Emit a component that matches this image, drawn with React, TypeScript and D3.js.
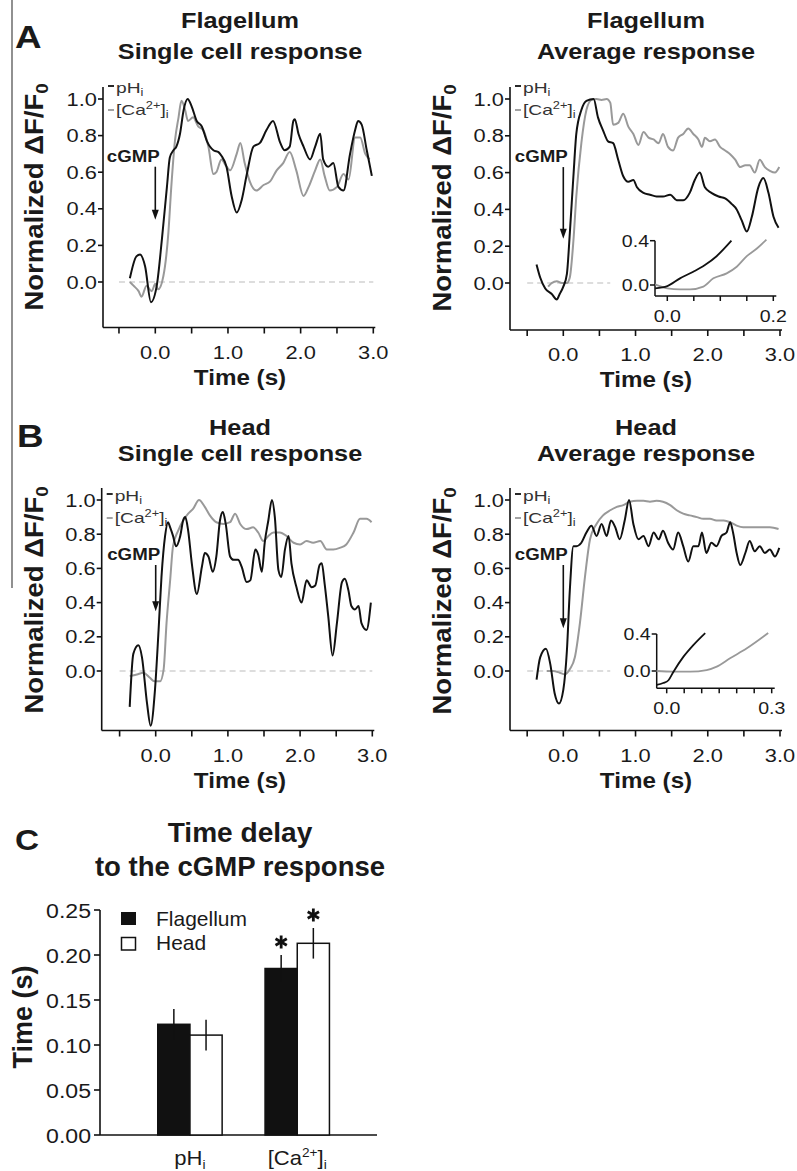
import React from "react";
import * as d3 from "d3";

const FONT = '"Liberation Sans", Arial, Helvetica, sans-serif';

type Pt = [number, number];

// ---- traces: [time (s), normalized dF/F0] ----
const flagSinglePh: Pt[] = [
  [-0.35, 0.02], [-0.26, 0.14], [-0.21, 0.15], [-0.14, 0.085], [-0.06, -0.11],
  [0.02, -0.02], [0.09, 0.23], [0.16, 0.52], [0.2, 0.68], [0.25, 0.72],
  [0.29, 0.74], [0.34, 0.81], [0.39, 0.94], [0.445, 1.0], [0.5, 0.96],
  [0.57, 0.88], [0.64, 0.85], [0.71, 0.77], [0.8, 0.72], [0.87, 0.71],
  [0.91, 0.69], [0.98, 0.63], [1.05, 0.47], [1.12, 0.38], [1.19, 0.45],
  [1.26, 0.59], [1.35, 0.74], [1.44, 0.76], [1.53, 0.83], [1.62, 0.88],
  [1.72, 0.76], [1.78, 0.72], [1.85, 0.74], [1.9, 0.88], [1.92, 0.89],
  [1.97, 0.81], [2.04, 0.74], [2.13, 0.67], [2.2, 0.74], [2.27, 0.81],
  [2.31, 0.67], [2.38, 0.63], [2.45, 0.65], [2.52, 0.52], [2.59, 0.5],
  [2.68, 0.7], [2.75, 0.83], [2.79, 0.88], [2.84, 0.86], [2.91, 0.72], [2.98, 0.58],
];
const flagSingleCa: Pt[] = [
  [-0.35, 0.0], [-0.3, -0.02], [-0.23, -0.05], [-0.19, -0.08], [-0.12, -0.02],
  [-0.05, -0.05], [0, -0.01], [0.04, -0.04], [0.11, 0.03], [0.18, 0.27],
  [0.22, 0.52], [0.27, 0.77], [0.32, 0.9], [0.36, 0.99], [0.41, 0.94],
  [0.45, 0.88], [0.52, 0.9], [0.59, 0.85], [0.66, 0.83], [0.73, 0.74],
  [0.8, 0.59], [0.84, 0.6], [0.91, 0.67], [0.98, 0.63], [1.03, 0.61],
  [1.12, 0.7], [1.17, 0.76], [1.23, 0.65], [1.3, 0.55], [1.39, 0.5],
  [1.49, 0.53], [1.58, 0.55], [1.67, 0.61], [1.76, 0.65], [1.85, 0.71],
  [1.94, 0.61], [2.04, 0.47], [2.11, 0.52], [2.2, 0.61], [2.27, 0.67],
  [2.33, 0.58], [2.4, 0.5], [2.5, 0.52], [2.59, 0.59], [2.66, 0.56],
  [2.75, 0.79], [2.82, 0.79], [2.89, 0.7], [2.95, 0.67],
];
const flagAvgPh: Pt[] = [
  [-0.37, 0.1], [-0.32, 0.03], [-0.25, -0.03], [-0.16, -0.06], [-0.09, -0.09],
  [-0.05, -0.06], [0, -0.02], [0.05, 0.05], [0.09, 0.27], [0.14, 0.58],
  [0.18, 0.81], [0.25, 0.94], [0.32, 0.99], [0.42, 1.0], [0.48, 0.9],
  [0.55, 0.83], [0.62, 0.77], [0.69, 0.76], [0.76, 0.67], [0.83, 0.58],
  [0.9, 0.55], [0.97, 0.56], [1.02, 0.52], [1.11, 0.49], [1.2, 0.48],
  [1.29, 0.47], [1.38, 0.47], [1.48, 0.48], [1.57, 0.45], [1.66, 0.45],
  [1.75, 0.49], [1.82, 0.56], [1.89, 0.6], [1.96, 0.52], [2.05, 0.49],
  [2.15, 0.47], [2.24, 0.46], [2.33, 0.43], [2.4, 0.4], [2.47, 0.34],
  [2.54, 0.28], [2.61, 0.36], [2.7, 0.52], [2.77, 0.57], [2.84, 0.49],
  [2.91, 0.36], [2.98, 0.3],
];
const flagAvgCa: Pt[] = [
  [-0.21, -0.02], [-0.16, 0.0], [-0.09, 0.01], [-0.02, 0.0], [0.05, 0.0],
  [0.09, 0.03], [0.14, 0.23], [0.18, 0.47], [0.25, 0.76], [0.32, 0.94],
  [0.39, 0.995], [0.46, 1.0], [0.53, 0.995], [0.6, 1.0], [0.65, 0.98],
  [0.69, 0.86], [0.76, 0.87], [0.83, 0.92], [0.9, 0.85], [0.97, 0.81],
  [1.04, 0.75], [1.11, 0.82], [1.18, 0.79], [1.25, 0.78], [1.32, 0.76],
  [1.38, 0.81], [1.45, 0.74], [1.52, 0.72], [1.59, 0.79], [1.66, 0.81],
  [1.73, 0.84], [1.8, 0.81], [1.87, 0.78], [1.92, 0.74], [1.96, 0.79],
  [2.03, 0.77], [2.1, 0.78], [2.17, 0.74], [2.24, 0.72], [2.31, 0.7],
  [2.38, 0.67], [2.45, 0.63], [2.52, 0.64], [2.58, 0.64], [2.65, 0.6],
  [2.72, 0.67], [2.79, 0.63], [2.86, 0.61], [2.93, 0.6], [2.99, 0.63],
];
const headSinglePh: Pt[] = [
  [-0.36, -0.21], [-0.31, 0.1], [-0.24, 0.15], [-0.19, 0.08], [-0.12, -0.19],
  [-0.07, -0.32], [-0.01, -0.11], [0.04, 0.24], [0.08, 0.55], [0.13, 0.79],
  [0.17, 0.87], [0.2, 0.84], [0.24, 0.79], [0.28, 0.73], [0.34, 0.79],
  [0.38, 0.88], [0.41, 0.9], [0.45, 0.82], [0.5, 0.63], [0.57, 0.45],
  [0.64, 0.61], [0.68, 0.69], [0.73, 0.67], [0.79, 0.58], [0.84, 0.67],
  [0.89, 0.88], [0.93, 0.93], [0.97, 0.86], [1.03, 0.67], [1.08, 0.65],
  [1.14, 0.65], [1.19, 0.61], [1.26, 0.52], [1.31, 0.53], [1.38, 0.71],
  [1.42, 0.68], [1.47, 0.58], [1.51, 0.75], [1.56, 0.88], [1.61, 1.0],
  [1.65, 0.9], [1.7, 0.59], [1.74, 0.55], [1.79, 0.71], [1.84, 0.79],
  [1.88, 0.63], [1.95, 0.49], [2.02, 0.4], [2.09, 0.53], [2.16, 0.49],
  [2.21, 0.5], [2.27, 0.62], [2.3, 0.63], [2.34, 0.51], [2.39, 0.32],
  [2.45, 0.09], [2.51, 0.28], [2.58, 0.52], [2.62, 0.54], [2.67, 0.47],
  [2.71, 0.38], [2.76, 0.36], [2.81, 0.38], [2.85, 0.28], [2.92, 0.24], [2.98, 0.4],
];
const headSingleCa: Pt[] = [
  [-0.36, -0.03], [-0.26, -0.02], [-0.17, -0.01], [-0.08, -0.04], [-0.02, -0.06],
  [0.06, -0.06], [0.11, 0.01], [0.15, 0.28], [0.2, 0.53], [0.24, 0.73],
  [0.31, 0.82], [0.38, 0.88], [0.45, 0.92], [0.52, 0.95], [0.6, 1.0],
  [0.68, 0.96], [0.75, 0.91], [0.84, 0.87], [0.94, 0.86], [1.03, 0.87],
  [1.1, 0.92], [1.17, 0.86], [1.26, 0.83], [1.35, 0.84], [1.42, 0.81],
  [1.49, 0.76], [1.56, 0.79], [1.63, 0.81], [1.72, 0.81], [1.81, 0.79],
  [1.91, 0.75], [2.0, 0.74], [2.09, 0.76], [2.18, 0.75], [2.28, 0.76],
  [2.37, 0.71], [2.46, 0.71], [2.55, 0.72], [2.64, 0.74], [2.74, 0.81],
  [2.83, 0.89], [2.92, 0.89], [2.99, 0.87],
];
const headAvgPh: Pt[] = [
  [-0.37, -0.05], [-0.32, 0.08], [-0.24, 0.13], [-0.18, 0.04], [-0.12, -0.13],
  [-0.06, -0.19], [0, -0.11], [0.05, 0.12], [0.09, 0.47], [0.14, 0.73],
  [0.18, 0.73], [0.25, 0.75], [0.32, 0.81], [0.39, 0.85], [0.46, 0.79],
  [0.53, 0.86], [0.6, 0.79], [0.66, 0.88], [0.72, 0.84], [0.78, 0.77],
  [0.85, 0.88], [0.91, 1.0], [0.97, 0.86], [1.04, 0.77], [1.11, 0.79],
  [1.18, 0.73], [1.25, 0.81], [1.32, 0.77], [1.38, 0.82], [1.45, 0.75],
  [1.52, 0.71], [1.59, 0.81], [1.66, 0.73], [1.73, 0.64], [1.8, 0.73],
  [1.87, 0.73], [1.92, 0.81], [1.98, 0.69], [2.05, 0.75], [2.12, 0.73],
  [2.19, 0.79], [2.26, 0.81], [2.31, 0.87], [2.35, 0.81], [2.4, 0.69],
  [2.45, 0.62], [2.52, 0.69], [2.58, 0.76], [2.65, 0.7], [2.72, 0.73],
  [2.79, 0.69], [2.86, 0.71], [2.93, 0.67], [2.99, 0.72],
];
const headAvgCa: Pt[] = [
  [-0.23, 0.0], [-0.14, 0.0], [-0.05, -0.01], [0.02, -0.02], [0.09, 0.01],
  [0.16, 0.08], [0.23, 0.28], [0.3, 0.55], [0.37, 0.77], [0.46, 0.86],
  [0.55, 0.91], [0.65, 0.94], [0.74, 0.96], [0.83, 0.97], [0.92, 0.99],
  [1.02, 0.995], [1.11, 0.995], [1.2, 0.99], [1.29, 0.995], [1.38, 0.99],
  [1.48, 0.97], [1.57, 0.94], [1.66, 0.92], [1.75, 0.91], [1.85, 0.9],
  [1.94, 0.89], [2.03, 0.89], [2.12, 0.88], [2.22, 0.88], [2.31, 0.87],
  [2.4, 0.85], [2.49, 0.84], [2.58, 0.84], [2.68, 0.84], [2.77, 0.84],
  [2.86, 0.84], [2.98, 0.83],
];

// ---- inset traces (first 0.2 / 0.3 s) ----
const flagInsetPh: Pt[] = [
  [-0.023, -0.03], [0, -0.01], [0.024, 0.06], [0.049, 0.12], [0.071, 0.18],
  [0.093, 0.26], [0.121, 0.4],
];
const flagInsetCa: Pt[] = [
  [-0.023, 0.006], [0, -0.03], [0.024, -0.04], [0.043, -0.04], [0.068, -0.015],
  [0.087, 0.06], [0.112, 0.105], [0.131, 0.165], [0.15, 0.26], [0.169, 0.33], [0.187, 0.41],
];
const headInsetPh: Pt[] = [
  [-0.029, -0.15], [-0.01, -0.13], [0.005, -0.1], [0.019, -0.01], [0.048, 0.155],
  [0.076, 0.28], [0.11, 0.41],
];
const headInsetCa: Pt[] = [
  [-0.029, 0], [0.019, -0.007], [0.067, -0.007], [0.114, 0.01], [0.143, 0.047],
  [0.181, 0.137], [0.229, 0.245], [0.29, 0.41],
];

// ---- panel C ----
const delayCats = ["pH", "Ca"];
const delaySeries = ["Flagellum", "Head"];
const flagellumDelay = [0.123, 0.185];
const flagellumErr = [0.017, 0.015];
const headDelay = [0.111, 0.213];
const headErr = [0.017, 0.017];
const delaySignif = [false, true];
const delayTicks = [0, 0.05, 0.1, 0.15, 0.2, 0.25];

const xTicks = [-0.5, 0, 0.5, 1, 1.5, 2, 2.5, 3];
const yTicks = [0, 0.2, 0.4, 0.6, 0.8, 1];

const BLACK = "#111";
const GRAY = "#999";

function Txt(props: any) {
  const { x, y, sx = 1, size, weight = "normal", anchor = "start", fill = "#1a1a1a", rotate, children } = props;
  const tf = `translate(${x},${y})${rotate ? ` rotate(${rotate})` : ""} scale(${sx},1)`;
  return (
    <text transform={tf} fontSize={size} fontWeight={weight} textAnchor={anchor} fill={fill} fontFamily={FONT}>
      {children}
    </text>
  );
}

function Inset({ c }: any) {
  const x = d3.scaleLinear().domain([0, c.tMax]).range([c.x0, c.x1]);
  const y = d3.scaleLinear().domain([0, 0.4]).range([c.y0, c.y4]);
  const line = d3.line<Pt>().x((d) => x(d[0])).y((d) => y(d[1])).curve(d3.curveMonotoneX);
  const ticks = d3.range(0, c.tMax + 1e-9, 0.05);
  return (
    <g>
      <line x1={c.axisX} x2={c.axisX} y1={y(0.4)} y2={c.axisY} stroke={BLACK} strokeWidth={1.5} />
      <line x1={c.axisX} x2={x(c.tMax) + 3} y1={c.axisY} y2={c.axisY} stroke={BLACK} strokeWidth={1.5} />
      {[0, 0.4].map((v) => (
        <g key={v}>
          <line x1={c.axisX - 5} x2={c.axisX} y1={y(v)} y2={y(v)} stroke={BLACK} strokeWidth={1.5} />
          <Txt x={c.axisX - 6} y={y(v) + 6} size={17} sx={1.15} anchor="end">{v.toFixed(1)}</Txt>
        </g>
      ))}
      {ticks.map((t) => (
        <line key={t} x1={x(t)} x2={x(t)} y1={c.axisY} y2={c.axisY + 5} stroke={BLACK} strokeWidth={1.5} />
      ))}
      <Txt x={x(0)} y={c.axisY + 26} size={17} sx={1.15} anchor="middle">0.0</Txt>
      <Txt x={x(c.tMax)} y={c.axisY + 26} size={17} sx={1.15} anchor="middle">{c.tMax.toFixed(1)}</Txt>
      <path d={line(c.ca) || ""} fill="none" stroke={GRAY} strokeWidth={1.8} />
      <path d={line(c.ph) || ""} fill="none" stroke={BLACK} strokeWidth={1.8} />
    </g>
  );
}

function TracePanel({ c }: any) {
  const x = d3.scaleLinear().domain([0, 3]).range([c.x0, c.x3]);
  const y = d3.scaleLinear().domain([0, 1]).range([c.y0, c.y1]);
  const line = d3.line<Pt>().x((d) => x(d[0])).y((d) => y(d[1])).curve(d3.curveMonotoneX);
  const ax = c.axisX;
  const tipY = y(c.arrowTip);
  return (
    <g>
      <Txt x={c.titleX} y={c.titleY[0]} size={22} sx={1.15} weight="bold" anchor="middle">{c.title[0]}</Txt>
      <Txt x={c.titleX} y={c.titleY[1]} size={22} sx={1.15} weight="bold" anchor="middle">{c.title[1]}</Txt>
      {c.letter && (
        <Txt x={c.letter[1]} y={c.letter[2]} size={32} sx={1.15} weight="bold">{c.letter[0]}</Txt>
      )}
      <Txt x={c.ylab[0]} y={c.ylab[1]} size={25} sx={1.1} weight="bold" anchor="middle" rotate={-90}>
        Normalized ΔF/F<tspan fontSize={17} dy={5}>0</tspan>
      </Txt>
      {/* zero baseline */}
      <line x1={x(-0.5)} x2={x(c.dashEnd)} y1={y(0)} y2={y(0)} stroke="#bbb" strokeWidth={1.2} strokeDasharray="6,4" />
      {/* axes */}
      <line x1={ax} x2={ax} y1={y(1) - 12} y2={c.axisY} stroke={BLACK} strokeWidth={1.6} />
      <line x1={ax} x2={x(3) + 2} y1={c.axisY} y2={c.axisY} stroke={BLACK} strokeWidth={1.6} />
      {yTicks.map((v) => (
        <g key={v}>
          <line x1={ax - 5} x2={ax} y1={y(v)} y2={y(v)} stroke={BLACK} strokeWidth={1.6} />
          <Txt x={ax - 6} y={y(v) + 6.5} size={19} sx={1.15} anchor="end">{v.toFixed(1)}</Txt>
        </g>
      ))}
      {xTicks.map((t) => (
        <g key={t}>
          <line x1={x(t)} x2={x(t)} y1={c.axisY} y2={c.axisY + 6} stroke={BLACK} strokeWidth={1.6} />
          {Number.isInteger(t) && (
            <Txt x={x(t)} y={c.axisY + 31} size={19} sx={1.15} anchor="middle">{t.toFixed(1)}</Txt>
          )}
        </g>
      ))}
      <Txt x={c.titleX} y={c.axisY + 57} size={22} sx={1.1} weight="bold" anchor="middle">Time (s)</Txt>
      {/* legend */}
      <line x1={ax + 5} x2={ax + 11} y1={c.legY[0] - 7} y2={c.legY[0] - 7} stroke={BLACK} strokeWidth={1.8} />
      <Txt x={ax + 13} y={c.legY[0]} size={15} sx={1.28} fill="#333">
        pH<tspan fontSize={10} dy={3}>i</tspan>
      </Txt>
      <line x1={ax + 5} x2={ax + 11} y1={c.legY[1] - 5} y2={c.legY[1] - 5} stroke={GRAY} strokeWidth={1.8} />
      <Txt x={ax + 13} y={c.legY[1]} size={15} sx={1.28} fill="#333">
        [Ca<tspan fontSize={10} dy={-6}>2+</tspan>
        <tspan dy={6}>]</tspan>
        <tspan fontSize={10} dy={3}>i</tspan>
      </Txt>
      {/* traces */}
      <path d={line(c.ca) || ""} fill="none" stroke={GRAY} strokeWidth={2} strokeLinejoin="round" />
      <path d={line(c.ph) || ""} fill="none" stroke={BLACK} strokeWidth={2} strokeLinejoin="round" />
      {/* cGMP arrow */}
      <Txt x={x(0) - 22} y={y(c.arrowTop) - 5} size={17} sx={1.1} weight="bold" anchor="middle">cGMP</Txt>
      <line x1={x(0)} x2={x(0)} y1={y(c.arrowTop)} y2={tipY - 8} stroke={BLACK} strokeWidth={1.6} />
      <path d={`M${x(0) - 3.5},${tipY - 10}L${x(0) + 3.5},${tipY - 10}L${x(0)},${tipY}Z`} fill={BLACK} />
      {c.inset && <Inset c={c.inset} />}
    </g>
  );
}

const panels = [
  {
    axisX: 103, x0: 155.3, x3: 373.3, y0: 282, y1: 99, axisY: 327.5,
    title: ["Flagellum", "Single cell response"], titleX: 240, titleY: [28, 59],
    letter: ["A", 15, 48], ylab: [43, 197], legY: [93, 115],
    arrowTop: 0.63, arrowTip: 0.34, dashEnd: 3, ph: flagSinglePh, ca: flagSingleCa,
  },
  {
    axisX: 510, x0: 563.3, x3: 780, y0: 283, y1: 99, axisY: 330,
    title: ["Flagellum", "Average response"], titleX: 646, titleY: [28, 59],
    ylab: [451, 198], legY: [93, 115],
    arrowTop: 0.63, arrowTip: 0.24, dashEnd: 0.65, ph: flagAvgPh, ca: flagAvgCa,
    inset: { tMax: 0.2, x0: 667.3, x1: 773.3, y0: 285, y4: 240.7, axisX: 655, axisY: 296, ph: flagInsetPh, ca: flagInsetCa },
  },
  {
    axisX: 101.7, x0: 155.7, x3: 372.3, y0: 671, y1: 500, axisY: 730.5,
    title: ["Head", "Single cell response"], titleX: 240, titleY: [435, 461],
    letter: ["B", 17, 447], ylab: [43, 600], legY: [501, 523],
    arrowTop: 0.62, arrowTip: 0.35, dashEnd: 3, ph: headSinglePh, ca: headSingleCa,
  },
  {
    axisX: 510, x0: 563.3, x3: 780, y0: 671, y1: 500, axisY: 730.5,
    title: ["Head", "Average response"], titleX: 646, titleY: [435, 461],
    ylab: [451, 601], legY: [501, 523],
    arrowTop: 0.62, arrowTip: 0.25, dashEnd: 0.65, ph: headAvgPh, ca: headAvgCa,
    inset: { tMax: 0.3, x0: 666.7, x1: 771.7, y0: 671, y4: 634, axisX: 656.7, axisY: 688.3, ph: headInsetPh, ca: headInsetCa },
  },
];

function DelayPanel() {
  const axisX = 100;
  const y = d3.scaleLinear().domain([0, 0.25]).range([1135, 910]);
  const xg = d3.scaleBand().domain(delayCats).range([136.3, 350.9]).paddingInner(0.4).paddingOuter(0.2);
  const xs = d3.scaleBand().domain(delaySeries).range([0, xg.bandwidth()]);
  const vals = [flagellumDelay, headDelay];
  const errs = [flagellumErr, headErr];
  const star = (cx: number, cy: number, key: string) => (
    <g key={key} stroke={BLACK} strokeWidth={2.8} strokeLinecap="butt">
      {[90, 30, -30].map((a) => {
        const r = 6.5;
        const dx = r * Math.cos((a * Math.PI) / 180);
        const dy = r * Math.sin((a * Math.PI) / 180);
        return <line key={a} x1={cx - dx} y1={cy - dy} x2={cx + dx} y2={cy + dy} />;
      })}
    </g>
  );
  return (
    <g>
      <Txt x={15} y={850} size={29} sx={1.15} weight="bold">C</Txt>
      <Txt x={240} y={842} size={27} sx={1.04} weight="bold" anchor="middle">Time delay</Txt>
      <Txt x={240} y={876} size={27} sx={1.02} weight="bold" anchor="middle">to the cGMP response</Txt>
      <Txt x={32} y={1017} size={27} weight="bold" anchor="middle" rotate={-90}>Time (s)</Txt>
      <line x1={axisX} x2={axisX} y1={y(0.25)} y2={y(0)} stroke={BLACK} strokeWidth={1.6} />
      <line x1={axisX} x2={377} y1={y(0)} y2={y(0)} stroke={BLACK} strokeWidth={1.6} />
      {delayTicks.map((v) => (
        <g key={v}>
          <line x1={axisX - 6} x2={axisX} y1={y(v)} y2={y(v)} stroke={BLACK} strokeWidth={1.6} />
          <Txt x={axisX - 9} y={y(v) + 7.5} size={21} sx={1.1} anchor="end">{v.toFixed(2)}</Txt>
        </g>
      ))}
      {delayCats.map((cat, ci) =>
        delaySeries.map((s, si) => {
          const x0 = (xg(cat) as number) + (xs(s) as number);
          const w = xs.bandwidth();
          const v = vals[si][ci];
          const e = errs[si][ci];
          return (
            <g key={cat + s}>
              <rect x={x0} y={y(v)} width={w} height={y(0) - y(v)} fill={si === 0 ? BLACK : "#fff"} stroke={BLACK} strokeWidth={1.5} />
              <line x1={x0 + w / 2} x2={x0 + w / 2} y1={y(v + e)} y2={y(v - e)} stroke={BLACK} strokeWidth={1.5} />
              {delaySignif[ci] && star(x0 + w / 2, y(v + e) - 13, cat + s + "star")}
            </g>
          );
        })
      )}
      {/* legend */}
      <rect x={121} y={912} width={15} height={13} fill={BLACK} />
      <Txt x={156} y={926} size={20} sx={1.05}>Flagellum</Txt>
      <rect x={121.5} y={937.5} width={14} height={12.5} fill="#fff" stroke={BLACK} strokeWidth={1.5} />
      <Txt x={156} y={950} size={20} sx={1.05}>Head</Txt>
      {/* category labels */}
      <Txt x={(xg("pH") as number) + xg.bandwidth() / 2} y={1165} size={21} sx={1.05} anchor="middle">
        pH<tspan fontSize={13} dy={4}>i</tspan>
      </Txt>
      <Txt x={(xg("Ca") as number) + xg.bandwidth() / 2} y={1165} size={21} sx={1.05} anchor="middle">
        [Ca<tspan fontSize={13} dy={-8}>2+</tspan>
        <tspan dy={8}>]</tspan>
        <tspan fontSize={13} dy={4}>i</tspan>
      </Txt>
    </g>
  );
}

export default function App() {
  return (
    <svg
      width={797}
      height={1171}
      viewBox="0 0 797 1171"
      style={{ position: "absolute", left: 0, top: 0, background: "#fff" }}
    >
      <rect x={0} y={0} width={797} height={1171} fill="#fff" />
      <line x1={12} x2={12} y1={0} y2={588} stroke="#555" strokeWidth={1.3} />
      {panels.map((p, i) => (
        <TracePanel key={i} c={p} />
      ))}
      <DelayPanel />
    </svg>
  );
}
